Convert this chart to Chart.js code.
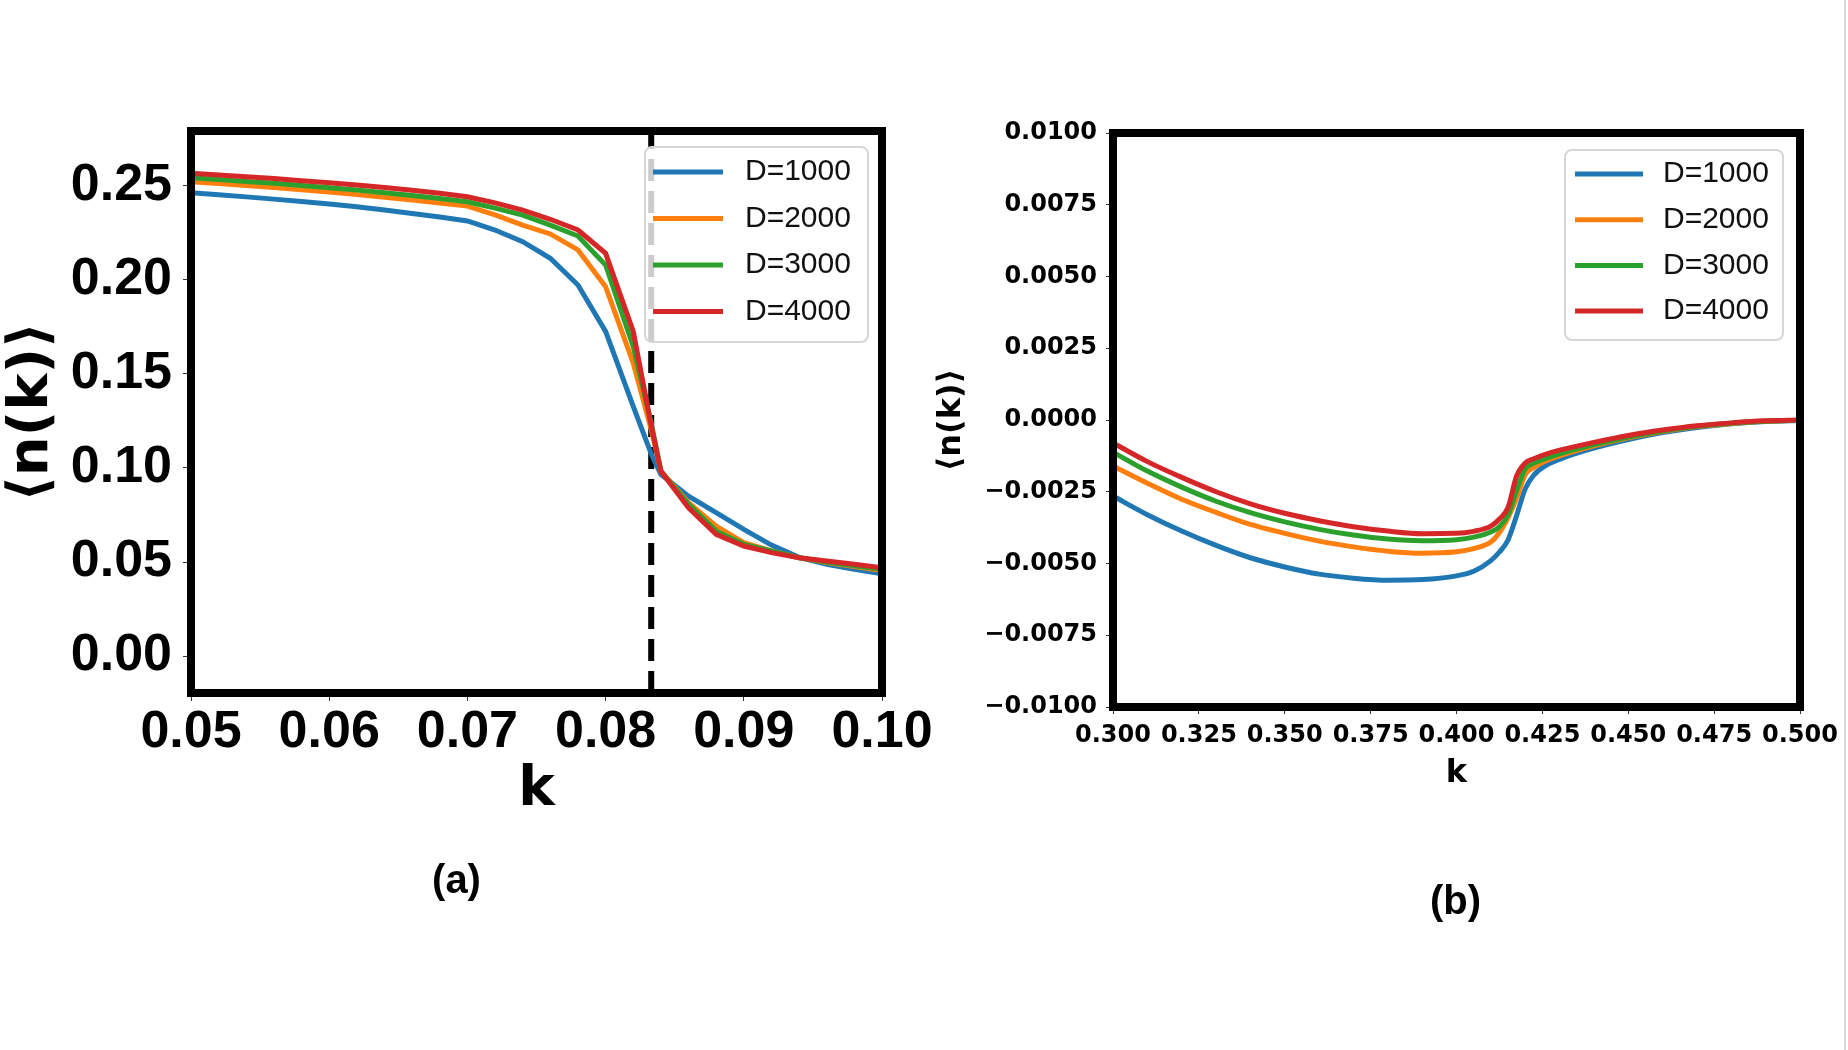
<!DOCTYPE html>
<html>
<head>
<meta charset="utf-8">
<script src="https://cdn.jsdelivr.net/npm/chart.js@4/dist/chart.umd.min.js"></script>
<style>
  body { margin: 0; background: #fff; }
  #page { position: relative; width: 1848px; height: 1050px; overflow: hidden; background: #fff; }
  .panel { position: absolute; top: 0; height: 1050px; }
  #edge { position: absolute; left: 1844px; top: 0; width: 2px; height: 1050px; background: #d8d8d8; }
</style>
</head>
<body>
<div id="page">
  <div class="panel" style="left:0;width:960px"><canvas id="chartLeft"></canvas></div>
  <div class="panel" style="left:900px;width:948px"><canvas id="chartRight"></canvas></div>
  <div id="edge"></div>
</div>
<script>
/* Datos */
const seriesLabels = ['D=1000', 'D=2000', 'D=3000', 'D=4000'];
const seriesColors = ['#1f77b4', '#ff7f0e', '#2ca02c', '#d62728'];

// panel (a)
const kLeft = [0.050, 0.052, 0.054, 0.056, 0.058, 0.060, 0.062, 0.064, 0.066, 0.068,
  0.070, 0.072, 0.074, 0.076, 0.078, 0.080, 0.082, 0.0833, 0.084, 0.086,
  0.088, 0.090, 0.092, 0.094, 0.096, 0.098, 0.100];
const nLeftD1000 = [0.2462, 0.2451, 0.2440, 0.2428, 0.2415, 0.2402, 0.2387, 0.2370, 0.2352, 0.2333,
  0.2312, 0.2264, 0.2202, 0.2114, 0.1972, 0.1725, 0.1327, 0.1075, 0.0965, 0.0850,
  0.0762, 0.0673, 0.0590, 0.0525, 0.0488, 0.0461, 0.0437];
const nLeftD2000 = [0.2520, 0.2511, 0.2501, 0.2490, 0.2478, 0.2466, 0.2452, 0.2438, 0.2423, 0.2407,
  0.2391, 0.2344, 0.2290, 0.2243, 0.2158, 0.1963, 0.1557, 0.1204, 0.0983, 0.0816,
  0.0691, 0.0603, 0.0559, 0.0523, 0.0497, 0.0476, 0.0455];
const nLeftD3000 = [0.2541, 0.2532, 0.2522, 0.2512, 0.2501, 0.2489, 0.2476, 0.2462, 0.2447, 0.2431,
  0.2414, 0.2380, 0.2343, 0.2290, 0.2232, 0.2078, 0.1645, 0.1239, 0.0983, 0.0806,
  0.0664, 0.0594, 0.0559, 0.0523, 0.0500, 0.0480, 0.0462];
const nLeftD4000 = [0.2565, 0.2556, 0.2547, 0.2537, 0.2526, 0.2515, 0.2503, 0.2490, 0.2475, 0.2459,
  0.2441, 0.2408, 0.2370, 0.2321, 0.2264, 0.2140, 0.1725, 0.1225, 0.0983, 0.0788,
  0.0647, 0.0585, 0.0550, 0.0523, 0.0505, 0.0488, 0.0470];
const kCritical = 0.0833;
const leftXTicks = [0.05, 0.06, 0.07, 0.08, 0.09, 0.10];
const leftYTicks = [0.00, 0.05, 0.10, 0.15, 0.20, 0.25];
const leftYRange = [-0.0196, 0.279];

// panel (b)
const kRight = [0.300, 0.310, 0.320, 0.330, 0.340, 0.350, 0.360, 0.370, 0.380, 0.390,
  0.400, 0.405, 0.410, 0.4125, 0.415, 0.4175, 0.420, 0.4225, 0.425, 0.430,
  0.440, 0.450, 0.460, 0.470, 0.480, 0.490, 0.500];
const nRightD1000 = [-0.00265, -0.00330, -0.00387, -0.00437, -0.00480, -0.00512, -0.00537, -0.00551, -0.00558, -0.00556,
  -0.00543, -0.00527, -0.00490, -0.00460, -0.00418, -0.00333, -0.00240, -0.00192, -0.00166, -0.00137,
  -0.00098, -0.00068, -0.00044, -0.00026, -0.00013, -0.00005, -0.00002];
const nRightD2000 = [-0.00160, -0.00220, -0.00276, -0.00322, -0.00364, -0.00395, -0.00422, -0.00442, -0.00457, -0.00464,
  -0.00459, -0.00448, -0.00425, -0.00392, -0.00340, -0.00272, -0.00190, -0.00165, -0.00148, -0.00125,
  -0.00090, -0.00062, -0.00040, -0.00023, -0.00012, -0.00004, -0.00001];
const nRightD3000 = [-0.00112, -0.00178, -0.00234, -0.00283, -0.00323, -0.00355, -0.00381, -0.00401, -0.00415, -0.00421,
  -0.00417, -0.00408, -0.00390, -0.00372, -0.00330, -0.00245, -0.00170, -0.00150, -0.00138, -0.00118,
  -0.00086, -0.00059, -0.00038, -0.00022, -0.00011, -0.00004, -0.00001];
const nRightD4000 = [-0.00080, -0.00145, -0.00200, -0.00250, -0.00292, -0.00325, -0.00351, -0.00372, -0.00387, -0.00396,
  -0.00395, -0.00388, -0.00370, -0.00345, -0.00305, -0.00195, -0.00150, -0.00135, -0.00123, -0.00105,
  -0.00078, -0.00054, -0.00035, -0.00020, -0.00010, -0.00003, 0.00000];
const rightXTicks = [0.300, 0.325, 0.350, 0.375, 0.400, 0.425, 0.450, 0.475, 0.500];
const rightYTicks = [-0.0100, -0.0075, -0.0050, -0.0025, 0.0000, 0.0025, 0.0050, 0.0075, 0.0100];

/* Plugins */

// marco negro alrededor del area
const panelFrame = {
  id: 'panelFrame',
  afterDraw(chart, args, opts) {
    const { ctx, chartArea } = chart;
    ctx.save();
    ctx.strokeStyle = '#000';
    ctx.lineWidth = opts.width;
    ctx.strokeRect(chartArea.left, chartArea.top, chartArea.right - chartArea.left, chartArea.bottom - chartArea.top);
    ctx.restore();
  },
};

// leyenda dentro del area (estilo matplotlib)
const boxLegend = {
  id: 'boxLegend',
  afterDraw(chart, args, opts) {
    const { ctx, chartArea } = chart;
    const x0 = chartArea.right - opts.right - opts.width;
    const y0 = chartArea.top + opts.top;
    ctx.save();
    ctx.beginPath();
    ctx.roundRect(x0, y0, opts.width, opts.height, 7);
    ctx.fillStyle = 'rgba(255,255,255,0.8)';
    ctx.fill();
    ctx.strokeStyle = '#d6d6d6';
    ctx.lineWidth = 2;
    ctx.stroke();
    chart.data.datasets.filter((d) => d.label).forEach((ds, i) => {
      const y = y0 + opts.firstRow + i * opts.rowGap;
      ctx.beginPath();
      ctx.strokeStyle = ds.borderColor;
      ctx.lineWidth = ds.borderWidth;
      ctx.moveTo(x0 + opts.lineStart, y);
      ctx.lineTo(x0 + opts.lineStart + opts.lineLength, y);
      ctx.stroke();
      ctx.fillStyle = '#111';
      ctx.font = opts.font;
      ctx.textBaseline = 'middle';
      ctx.textAlign = 'left';
      ctx.fillText(ds.label, x0 + opts.textStart, y);
    });
    ctx.restore();
  },
};

// etiqueta (a) / (b) debajo del panel
const panelLabel = {
  id: 'panelLabel',
  afterDraw(chart, args, opts) {
    const { ctx, chartArea } = chart;
    ctx.save();
    ctx.font = 'bold 40px "Liberation Sans", Arial, sans-serif';
    ctx.fillStyle = '#000';
    ctx.textAlign = 'center';
    ctx.textBaseline = 'middle';
    ctx.fillText(opts.text, (chartArea.left + chartArea.right) / 2 + opts.dx, chartArea.bottom + opts.dy);
    ctx.restore();
  },
};

const makeSeries = (ks, values, i, smooth) => ({
  label: seriesLabels[i],
  data: ks.map((k, j) => ({ x: k, y: values[j] })),
  borderColor: seriesColors[i],
  borderWidth: 5,
  pointRadius: 0,
  fill: false,
  tension: 0,
  cubicInterpolationMode: smooth ? 'monotone' : 'default',
  order: 4 - i,
});

const fmtMinus = (s) => s.replace('-', '\u2212');

/* Panel (a) */
const ctxA = document.getElementById('chartLeft').getContext('2d');
const bigTick = { family: '"Liberation Sans", Arial, sans-serif', weight: 'bold', size: 52 };
new Chart(ctxA, {
  type: 'line',
  data: {
    datasets: [
      makeSeries(kLeft, nLeftD1000, 0, false),
      makeSeries(kLeft, nLeftD2000, 1, false),
      makeSeries(kLeft, nLeftD3000, 2, false),
      makeSeries(kLeft, nLeftD4000, 3, false),
      {
        label: '',
        data: [{ x: kCritical, y: leftYRange[0] }, { x: kCritical, y: leftYRange[1] }],
        borderColor: '#000',
        borderWidth: 6,
        borderDash: [22, 10],
        pointRadius: 0,
        order: 5,
      },
    ],
  },
  options: {
    responsive: true,
    maintainAspectRatio: false,
    animation: false,
    layout: { padding: { left: 0, top: 131, right: 78, bottom: 232 } },
    plugins: {
      legend: { display: false },
      tooltip: { enabled: false },
      panelFrame: { width: 8 },
      boxLegend: { right: 14, top: 16, width: 223, height: 195, firstRow: 25, rowGap: 46.5, lineStart: 8, lineLength: 70, textStart: 100, font: '30px "Liberation Sans", Arial, sans-serif' },
      panelLabel: { text: '(a)', dx: -80, dy: 189 },
    },
    scales: {
      x: {
        type: 'linear',
        min: 0.05,
        max: 0.10,
        afterFit: (s) => { s.height = 125; },
        afterBuildTicks: (s) => { s.ticks = leftXTicks.map((v) => ({ value: v })); },
        ticks: { callback: (v) => v.toFixed(2), font: bigTick, color: '#000', padding: 0, maxRotation: 0, autoSkip: false },
        grid: { display: true, drawOnChartArea: false, tickLength: 8, color: '#333' },
        border: { display: false },
        title: { display: true, text: 'k', font: { family: '"DejaVu Sans", sans-serif', weight: 'bold', size: 55, lineHeight: 1 }, color: '#000', padding: 0 },
      },
      y: {
        type: 'linear',
        min: leftYRange[0],
        max: leftYRange[1],
        afterFit: (s) => { s.width = 191; },
        afterBuildTicks: (s) => { s.ticks = leftYTicks.map((v) => ({ value: v })); },
        ticks: { callback: (v) => v.toFixed(2), font: bigTick, color: '#000', padding: 11 },
        grid: { display: true, drawOnChartArea: false, tickLength: 8, color: '#333' },
        border: { display: false },
        title: { display: true, text: '\u27E8n(k)\u27E9', font: { family: '"DejaVu Sans", sans-serif', weight: 'bold', size: 56, lineHeight: 1 }, color: '#000', padding: { top: 4, bottom: 0 } },
      },
    },
  },
  plugins: [panelFrame, boxLegend, panelLabel],
});

/* Panel (b) */
const ctxB = document.getElementById('chartRight').getContext('2d');
const smallTick = { family: '"DejaVu Sans", sans-serif', weight: 'bold', size: 24 };
new Chart(ctxB, {
  type: 'line',
  data: {
    datasets: [
      makeSeries(kRight, nRightD1000, 0, true),
      makeSeries(kRight, nRightD2000, 1, true),
      makeSeries(kRight, nRightD3000, 2, true),
      makeSeries(kRight, nRightD4000, 3, true),
    ],
  },
  options: {
    responsive: true,
    maintainAspectRatio: false,
    animation: false,
    layout: { padding: { left: 0, top: 133, right: 48, bottom: 260 } },
    plugins: {
      legend: { display: false },
      tooltip: { enabled: false },
      panelFrame: { width: 8 },
      boxLegend: { right: 17, top: 17, width: 218, height: 190, firstRow: 24, rowGap: 45.7, lineStart: 10, lineLength: 68, textStart: 98, font: '30px "Liberation Sans", Arial, sans-serif' },
      panelLabel: { text: '(b)', dx: -1, dy: 196 },
    },
    scales: {
      x: {
        type: 'linear',
        min: 0.3,
        max: 0.5,
        afterFit: (s) => { s.height = 83; },
        afterBuildTicks: (s) => { s.ticks = rightXTicks.map((v) => ({ value: v })); },
        ticks: { callback: (v) => v.toFixed(3), font: smallTick, color: '#000', padding: 7, maxRotation: 0, autoSkip: false },
        grid: { display: true, drawOnChartArea: false, tickLength: 7, color: '#333' },
        border: { display: false },
        title: { display: true, text: 'k', font: { family: '"DejaVu Sans", sans-serif', weight: 'bold', size: 32, lineHeight: 1 }, color: '#000', padding: 0 },
      },
      y: {
        type: 'linear',
        min: -0.01,
        max: 0.01,
        afterFit: (s) => { s.width = 213; },
        afterBuildTicks: (s) => { s.ticks = rightYTicks.map((v) => ({ value: v })); },
        ticks: { callback: (v) => fmtMinus((Math.abs(v) < 1e-9 ? 0 : v).toFixed(4)), font: smallTick, color: '#000', padding: 9 },
        grid: { display: true, drawOnChartArea: false, tickLength: 7, color: '#333' },
        border: { display: false },
        title: { display: true, text: '\u27E8n(k)\u27E9', font: { family: '"DejaVu Sans", sans-serif', weight: 'bold', size: 32, lineHeight: 1 }, color: '#000', padding: { top: 36, bottom: 0 } },
      },
    },
  },
  plugins: [panelFrame, boxLegend, panelLabel],
});
</script>
</body>
</html>
